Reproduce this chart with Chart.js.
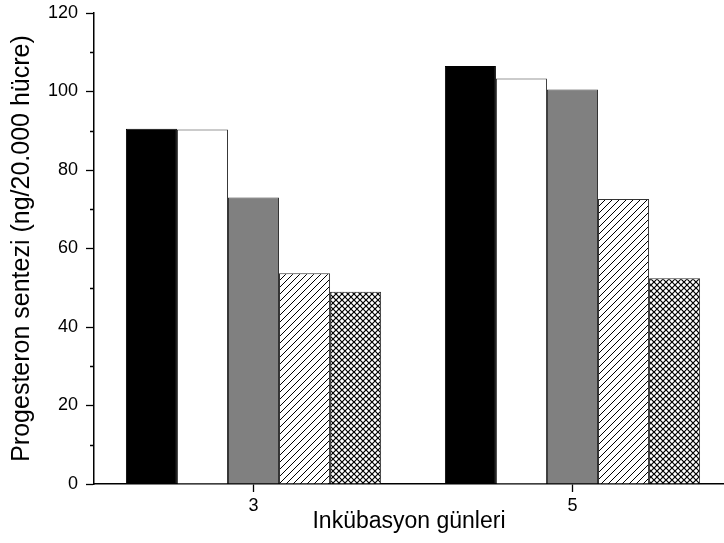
<!DOCTYPE html>
<html>
<head>
<meta charset="utf-8">
<script src="https://cdn.jsdelivr.net/npm/chart.js@4.4.1/dist/chart.umd.min.js"></script>
<style>
  html, body { margin: 0; padding: 0; background: #fff; }
  #wrap { width: 724px; height: 543px; }
</style>
</head>
<body>
<div id="wrap"><canvas id="chart"></canvas></div>
<script>
// Data
const days        = [ 3, 5 ];
const seriesBlack = [ 90.5, 106.5 ];
const seriesWhite = [ 90.3, 103.3 ];
const seriesGray  = [ 73.0, 100.5 ];
const seriesHatch = [ 53.7, 72.6 ];
const seriesCross = [ 49.0, 52.4 ];
const yTicks      = [ 0, 20, 40, 60, 80, 100, 120 ];
const yMinorTicks = [ 10, 30, 50, 70, 90, 110 ];

const yTitle = 'Progesteron sentezi (ng/20.000 hücre)';
const xTitle = 'Inkübasyon günleri';

let font_family = '"Liberation Sans", Arial, sans-serif';

// tick labels pick this up too
Chart.defaults.font.family = font_family;
Chart.defaults.font.size   = 18;
Chart.defaults.color       = '#000';

/**
 * Make a small repeating fill pattern
 */
function make_pattern( size, draw ) {
    let c   = document.createElement( 'canvas' );
    c.width  = size;
    c.height = size;
    let g   = c.getContext( '2d' );
    g.fillStyle = '#ffffff';
    g.fillRect( 0, 0, size, size );
    g.strokeStyle = '#000000';
    g.lineWidth = 1;
    draw( g, size );
    return g.createPattern( c, 'repeat' );
}

// "///" hatch
let hatch = make_pattern( 7, function ( g, s ) {
    g.beginPath();
    g.moveTo( -1, s + 1 ); g.lineTo( s + 1, -1 );
    g.moveTo( -1, 1 );     g.lineTo( 1, -1 );
    g.moveTo( s - 1, s + 1 ); g.lineTo( s + 1, s - 1 );
    g.stroke();
});

// cross hatch
let cross = make_pattern( 6, function ( g, s ) {
    g.lineWidth = 1.2;
    g.beginPath();
    g.moveTo( 0, 0 ); g.lineTo( s, s );
    g.moveTo( 0, s ); g.lineTo( s, 0 );
    g.stroke();
});

function to_points( values ) {
    return values.map( function ( v, i ) { return { x: days[ i ], y: v }; } );
}

function bar_set( values, fill, border ) {
    return {
        data: to_points( values ),
        backgroundColor: fill,
        borderColor: border,
        borderWidth: 1,
        borderSkipped: 'bottom',
        categoryPercentage: 0.8,
        barPercentage: 1.0
    };
}

// draws the short minor ticks on the y axis
const minor_ticks = {
    id: 'minorTicks',
    afterDraw: function ( chart ) {
        let ctx = chart.ctx;
        let y   = chart.scales.y;
        ctx.save();
        ctx.strokeStyle = '#000';
        ctx.lineWidth   = 1.3;
        ctx.beginPath();
        yMinorTicks.forEach( function ( v ) {
            let py = Math.round( y.getPixelForValue( v ) ) + 0.5;
            ctx.moveTo( y.right - 4, py );
            ctx.lineTo( y.right, py );
        });
        ctx.stroke();
        ctx.restore();
    }
};

new Chart( document.getElementById( 'chart' ), {
    type: 'bar',
    data: {
        datasets: [
            bar_set( seriesBlack, '#000000', '#000000' ),
            bar_set( seriesWhite, '#ffffff', '#333333' ),
            bar_set( seriesGray,  '#808080', '#333333' ),
            bar_set( seriesHatch, hatch,     '#333333' ),
            bar_set( seriesCross, cross,     '#333333' )
        ]
    },
    plugins: [ minor_ticks ],
    options: {
        responsive: true,
        maintainAspectRatio: false,
        animation: false,
        layout: { padding: { top: 13, right: 0, bottom: 0, left: 0 } },
        plugins: {
            legend:  { display: false },
            tooltip: { enabled: false }
        },
        scales: {
            x: {
                type: 'linear',
                min: 2,
                max: 5.95,
                offset: false,
                afterBuildTicks: function ( scale ) {
                    scale.ticks = days.map( function ( d ) { return { value: d }; } );
                },
                afterFit: function ( scale ) {
                    scale.height = 59;
                    scale.paddingLeft = 0;
                    scale.paddingRight = 0;
                },
                border: { display: true, color: '#000', width: 1.5 },
                grid: {
                    offset: false,
                    drawOnChartArea: false,
                    drawTicks: true,
                    tickLength: 8,
                    tickColor: '#000',
                    tickWidth: 1.3
                },
                ticks: {
                    color: '#000',
                    padding: 3,
                    font: { family: font_family, size: 18 },
                    callback: function ( v ) { return String( v ); }
                },
                title: {
                    display: true,
                    text: xTitle,
                    color: '#000',
                    font: { family: font_family, size: 23 },
                    padding: { top: 0, bottom: 8 }
                }
            },
            y: {
                min: 0,
                max: 120,
                afterBuildTicks: function ( scale ) {
                    scale.ticks = yTicks.map( function ( v ) { return { value: v }; } );
                },
                afterFit: function ( scale ) {
                    scale.width = 94;
                    scale.paddingTop = 0;
                    scale.paddingBottom = 0;
                },
                border: { display: true, color: '#000', width: 1.5 },
                grid: {
                    drawOnChartArea: false,
                    drawTicks: true,
                    tickLength: 8,
                    tickColor: '#000',
                    tickWidth: 1.3
                },
                ticks: {
                    color: '#000',
                    padding: 8,
                    font: { family: font_family, size: 18 }
                },
                title: {
                    display: true,
                    text: yTitle,
                    color: '#000',
                    font: { family: font_family, size: 25 },
                    padding: { top: 7, bottom: 0 }
                }
            }
        }
    }
});
</script>
</body>
</html>
